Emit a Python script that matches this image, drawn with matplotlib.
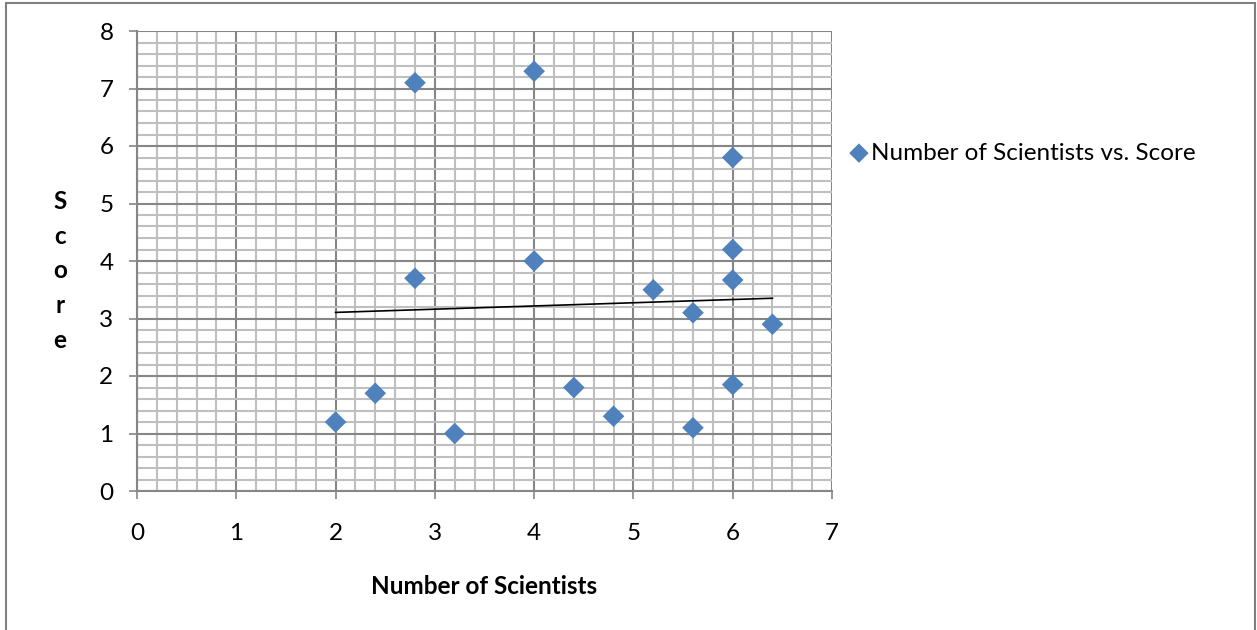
import matplotlib
matplotlib.use("Agg")
import matplotlib.pyplot as plt
import numpy as np
from matplotlib.patches import Rectangle
from matplotlib.ticker import MultipleLocator

num_scientists = [2, 2.4, 2.8, 2.8, 3.2, 4, 4, 4.4, 4.8, 5.2, 5.6, 5.6, 6, 6, 6, 6, 6.4]
scores = [1.2, 1.7, 7.1, 3.7, 1.0, 7.3, 4.0, 1.8, 1.3, 3.5, 3.1, 1.1, 5.8, 4.2, 3.67, 1.85, 2.9]
series_label = "Number of Scientists vs. Score"
x_label = "Number of Scientists"
y_label = "Score"

plt.rcParams['font.family'] = ['Lato', 'DejaVu Sans']

fig = plt.figure(figsize=(12.57, 6.30), dpi=100)
ax = fig.add_axes([137/1257, 1 - 491/630, (832 - 137)/1257, (491 - 31)/630])

major_c = '#868686'
minor_c = '#BFBFBF'

ax.set_xlim(0, 7)
ax.set_ylim(0, 8)
ax.xaxis.set_major_locator(MultipleLocator(1))
ax.yaxis.set_major_locator(MultipleLocator(1))
ax.xaxis.set_minor_locator(MultipleLocator(0.2))
ax.yaxis.set_minor_locator(MultipleLocator(0.2))
ax.grid(which='minor', color=minor_c, linewidth=1.5, zorder=0)
ax.grid(which='major', color=major_c, linewidth=1.5, zorder=0)
ax.set_axisbelow(True)
for s in ['top', 'right']:
    ax.spines[s].set_visible(False)
for s in ['left', 'bottom']:
    ax.spines[s].set_color(major_c)
    ax.spines[s].set_linewidth(1.5)
ax.tick_params(which='minor', length=0)
ax.tick_params(axis='x', which='major', direction='out', length=6, width=1.2, color=major_c, pad=17, labelsize=17.5)
ax.tick_params(axis='y', which='major', direction='out', length=6, width=1.2, color=major_c, pad=11, labelsize=17.5)

ax.scatter(num_scientists, scores, marker='D', s=11**2, color='#4F81BD', edgecolors='none',
           zorder=3, label=series_label, clip_on=False)

coef = np.polyfit(num_scientists, scores, 1)
xs = np.array([min(num_scientists), max(num_scientists)])
ax.plot(xs, np.polyval(coef, xs), color='black', linewidth=1.2, zorder=4)

ax.set_xlabel(x_label, fontsize=17.5, fontweight='bold', labelpad=22)
fig.text(60/1257, 1 - 271/630, "\n".join(y_label), fontsize=17.5, fontweight='bold',
         ha='center', va='center', linespacing=1.62)

ax.legend(loc='center left', bbox_to_anchor=(848/1257, 1 - 153/630), bbox_transform=fig.transFigure,
          frameon=False, fontsize=17.5, handletextpad=0.05, handlelength=0.9, borderaxespad=0,
          borderpad=0, markerscale=0.9)

fig.patches.append(Rectangle((6/1257, -0.1), (1255 - 6)/1257, 1.1 - 3/630, transform=fig.transFigure,
                             fill=False, edgecolor='#7F7F7F', linewidth=1.5))

fig.savefig("out.png", dpi=100)
